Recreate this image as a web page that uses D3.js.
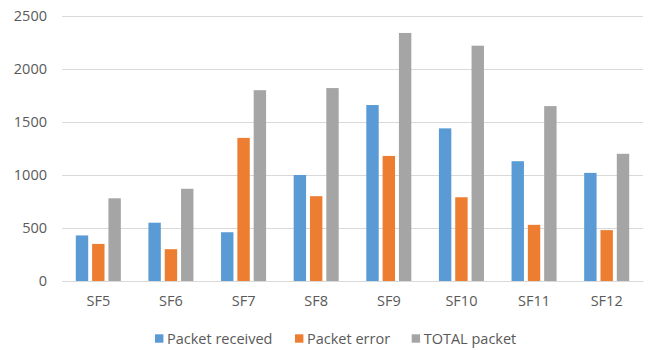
<!DOCTYPE html>
<html>
<head>
<meta charset="utf-8">
<script src="https://cdn.jsdelivr.net/npm/d3@7"></script>
<style>
  html, body { margin: 0; padding: 0; background: #fff; }
  svg { display: block; }
  text { font-family: "Open Sans", "Noto Sans", sans-serif; fill: #595959; }
</style>
</head>
<body>
<svg id="chart" width="651" height="350"></svg>
<script>
// Packet counts per spreading factor
const categories = ["SF5", "SF6", "SF7", "SF8", "SF9", "SF10", "SF11", "SF12"];
const seriesNames = ["Packet received", "Packet error", "TOTAL packet"];
const packetReceived = [430, 550, 460, 1000, 1660, 1440, 1130, 1020];
const packetError = [350, 300, 1350, 800, 1180, 790, 530, 480];
const totalPacket = [780, 870, 1800, 1820, 2340, 2220, 1650, 1200];
const yTicks = [0, 500, 1000, 1500, 2000, 2500];
const colors = ["#5B9BD5", "#ED7D31", "#A5A5A5"];

const seriesValues = [packetReceived, packetError, totalPacket];

const svg = d3.select("#chart");
const plotLeft = 62, plotRight = 643, plotTop = 16, plotBottom = 281;

const x0 = d3.scaleBand().domain(categories).range([plotLeft, plotRight])
  .paddingInner(0.38).paddingOuter(0.19);
const x1 = d3.scaleBand().domain(seriesNames).range([0, x0.bandwidth()])
  .paddingInner(0.24).paddingOuter(0);
const y = d3.scaleLinear().domain([0, 2500]).range([plotBottom, plotTop]);

// Horizontal gridlines with tick labels on the left
const yAxis = d3.axisLeft(y).tickValues(yTicks).tickFormat(d3.format("d"))
  .tickSize(-(plotRight - plotLeft)).tickPadding(15);
const gy = svg.append("g").attr("transform", `translate(${plotLeft},0)`).call(yAxis);
gy.select(".domain").remove();
gy.selectAll(".tick line").attr("stroke", "#D9D9D9").attr("stroke-width", 1);
gy.selectAll(".tick text").attr("font-size", 14.5).style("fill", "#595959")
  .attr("font-family", "'Open Sans', sans-serif");

// Grouped bars
const groups = svg.append("g").selectAll("g")
  .data(categories)
  .join("g")
  .attr("transform", d => `translate(${x0(d)},0)`);

groups.selectAll("rect")
  .data((d, i) => seriesNames.map((s, k) => ({ s, k, v: seriesValues[k][i] })))
  .join("rect")
  .attr("x", d => x1(d.s))
  .attr("width", x1.bandwidth())
  .attr("y", d => y(d.v))
  .attr("height", d => y(0) - y(d.v))
  .attr("fill", d => colors[d.k]);

// Category axis labels
const xAxis = d3.axisBottom(x0).tickSize(0).tickPadding(15);
const gx = svg.append("g").attr("transform", `translate(0,${plotBottom})`).call(xAxis);
gx.select(".domain").attr("stroke", "#D9D9D9");
gx.selectAll(".tick text").attr("font-size", 14.5).style("fill", "#595959")
  .attr("font-family", "'Open Sans', sans-serif");

// Legend
const legendX = [155, 295, 411.7];
const legend = svg.append("g").selectAll("g")
  .data(seriesNames)
  .join("g")
  .attr("transform", (d, i) => `translate(${legendX[i]},334.3)`);
legend.append("rect").attr("width", 8.4).attr("height", 8.4)
  .attr("fill", (d, i) => colors[i]);
legend.append("text").attr("x", 12).attr("y", 4.2).attr("dy", "0.35em")
  .attr("font-size", 14.5).text(d => d);
</script>
</body>
</html>
